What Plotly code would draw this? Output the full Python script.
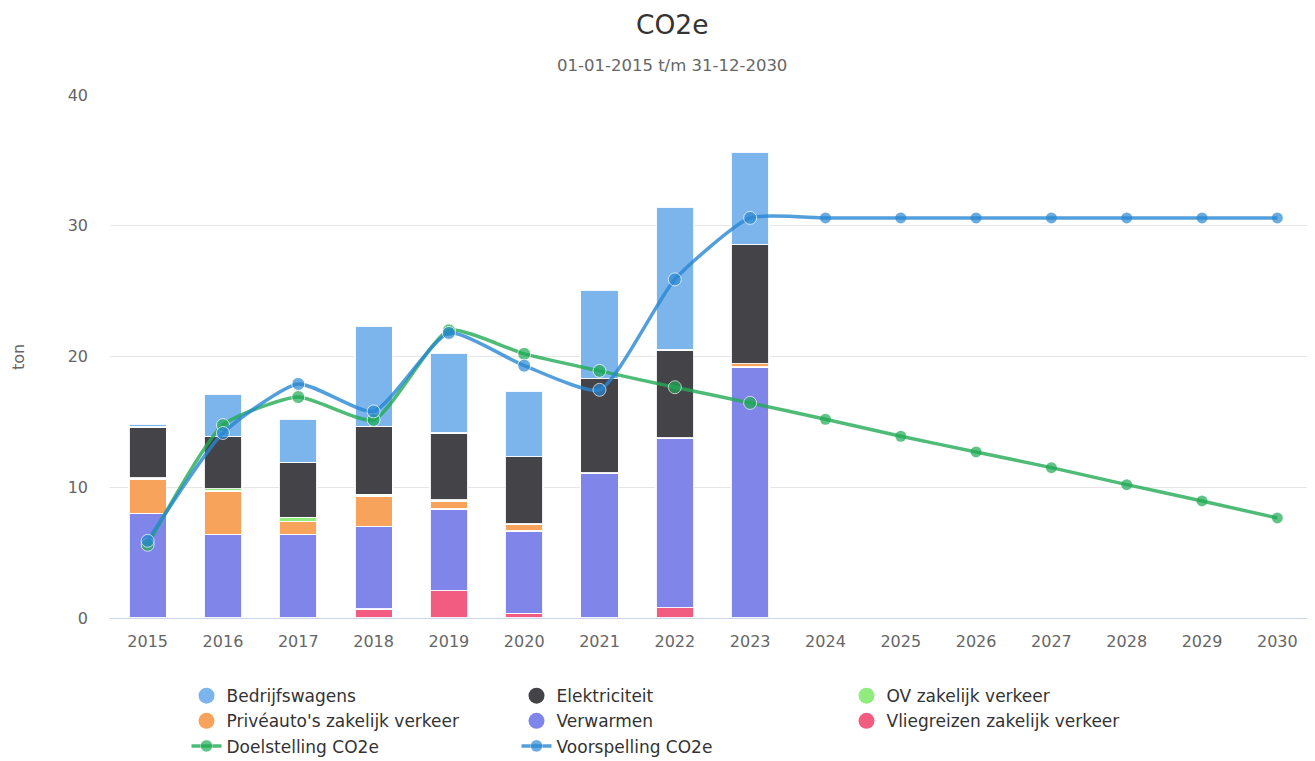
import plotly.graph_objects as go

years = [str(y) for y in range(2015, 2031)]
bar_years = [str(y) for y in range(2015, 2024)]

verwarmen = [8.0, 6.4, 6.4, 6.3, 6.25, 6.3, 11.1, 12.95, 19.2]
vliegreizen = [0, 0, 0, 0.7, 2.1, 0.35, 0, 0.8, 0]
priveauto = [2.6, 3.3, 1.0, 2.35, 0.6, 0.55, 0, 0, 0.25]
ov = [0.1, 0.2, 0.3, 0.1, 0.1, 0, 0, 0, 0]
elektriciteit = [3.9, 4.0, 4.2, 5.2, 5.1, 5.15, 7.2, 6.75, 9.1]
bedrijfswagens = [0.2, 3.2, 3.3, 7.7, 6.1, 5.0, 6.8, 10.9, 7.1]

doelstelling = [5.6, 14.75, 16.9, 15.15, 22.0, 20.2, 18.9, 17.65, 16.45,
                15.2, 13.9, 12.7, 11.5, 10.2, 8.95, 7.65]
voorspelling = [5.9, 14.15, 17.9, 15.8, 21.8, 19.3, 17.45, 25.9, 30.6,
                30.6, 30.6, 30.6, 30.6, 30.6, 30.6, 30.6]

FONT = "DejaVu Sans"

# page body has an 8px margin: figure is sized/offset to compensate
W, H = 1307, 753
L, R, T, B = 102, 0, 87, 143
PW, PH = W - L - R, H - T - B

# stacking order bottom -> top
stack = [
    ("Vliegreizen zakelijk verkeer", vliegreizen, "#f15c80"),
    ("Verwarmen", verwarmen, "#8085e9"),
    ("Privéauto's zakelijk verkeer", priveauto, "#f7a35c"),
    ("OV zakelijk verkeer", ov, "#90ed7d"),
    ("Elektriciteit", elektriciteit, "#434348"),
    ("Bedrijfswagens", bedrijfswagens, "#7cb5ec"),
]
colors = {n: c for n, _, c in stack}

fig = go.Figure()
for name, vals, col in stack:
    fig.add_trace(go.Bar(
        x=bar_years, y=vals, name=name, marker_color=col,
        marker_line=dict(color="rgba(255,255,255,0.9)", width=1.5),
        showlegend=False, legendgroup=name,
    ))

# legend entries (circles) in the reference order
legend_order = ["Bedrijfswagens", "Elektriciteit", "OV zakelijk verkeer",
                "Privéauto's zakelijk verkeer", "Verwarmen", "Vliegreizen zakelijk verkeer"]
for name in legend_order:
    fig.add_trace(go.Scatter(
        x=[None], y=[None], mode="markers", name=name, legendgroup=name,
        marker=dict(symbol="circle", size=18, color=colors[name]),
    ))

n_hist = len(bar_years)
lw = [1] * n_hist + [0] * (len(years) - n_hist)
ms = [13] * n_hist + [11] * (len(years) - n_hist)

fig.add_trace(go.Scatter(
    x=years, y=doelstelling, name="Doelstelling CO2e", mode="lines+markers",
    line=dict(color="rgba(34,170,85,0.8)", width=3.5, shape="spline", smoothing=0.55),
    marker=dict(color="#1faa55", size=ms, line=dict(color="white", width=lw)),
))
fig.add_trace(go.Scatter(
    x=years, y=voorspelling, name="Voorspelling CO2e", mode="lines+markers",
    line=dict(color="rgba(40,135,210,0.8)", width=3.5, shape="spline", smoothing=0.55),
    marker=dict(color="#2a88d2", size=ms, line=dict(color="white", width=lw)),
))

fig.update_layout(
    width=W, height=H,
    barmode="stack", bargap=0.5,
    plot_bgcolor="white", paper_bgcolor="white",
    font=dict(family=FONT, color="#333333"),
    margin=dict(l=L, r=R, t=T, b=B, autoexpand=False),
    annotations=[
        dict(text="CO2e",
             x=(664 - L) / PW, xref="paper",
             y=(PH + T - 16) / PH, yref="paper",
             showarrow=False, xanchor="center", yanchor="middle",
             font=dict(size=26.5, color="#333333", family=FONT)),
        dict(text="01-01-2015 t/m 31-12-2030",
             x=(664 - L) / PW, xref="paper",
             y=(PH + T - 57) / PH, yref="paper",
             showarrow=False, xanchor="center", yanchor="middle",
             font=dict(size=16.5, color="#666666", family=FONT)),
        dict(text="ton", x=-92 / PW, xref="paper", y=(618 - 357) / PH, yref="paper",
             showarrow=False, textangle=-90, xanchor="center", yanchor="middle",
             font=dict(size=16, color="#666666", family=FONT)),
    ],
    xaxis=dict(
        type="category", categoryorder="array", categoryarray=years,
        showgrid=False, showline=True, linecolor="#ccd6eb", linewidth=1,
        ticks="", ticklabelstandoff=9, automargin=False,
        tickfont=dict(size=16, color="#666666"),
        range=[-0.5, len(years) - 0.5],
    ),
    yaxis=dict(
        range=[0, 40], dtick=10, showgrid=True, gridcolor="#e6e6e6",
        zeroline=False, showline=False, automargin=False,
        tickfont=dict(size=16, color="#666666"), ticklabelstandoff=21,
    ),
    legend=dict(
        orientation="h", x=0.0635, xanchor="left", y=-0.115, yanchor="top",
        entrywidth=285, entrywidthmode="pixels",
        font=dict(size=17, color="#333333", family=FONT),
        traceorder="normal", itemwidth=30,
    ),
    hovermode="x",
)

fig.write_html("out.html")
